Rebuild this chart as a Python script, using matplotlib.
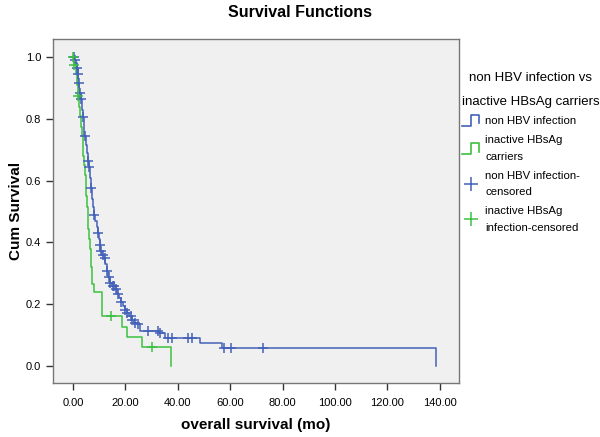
import matplotlib
matplotlib.use("Agg")
import matplotlib.pyplot as plt
import numpy as np
from matplotlib.lines import Line2D
from matplotlib.legend_handler import HandlerBase

plt.rcParams['font.family'] = ['Liberation Sans', 'DejaVu Sans']

# Kaplan-Meier steps: time (mo) and survival after the step
blue_time = [0.0, 0.5, 1.0, 1.4, 1.8, 2.0, 2.4, 2.9, 3.3, 3.6, 4.0, 4.3, 4.8, 5.2, 5.6,
             6.0, 6.4, 6.7, 7.1, 7.6, 8.0, 8.5, 9.0, 9.4, 9.8, 10.1, 10.4, 11.0, 11.8,
             12.3, 12.9, 13.5, 14.1, 15.0, 16.2, 16.9, 17.6, 18.2, 19.0, 19.9, 20.5,
             21.3, 22.4, 23.4, 24.6, 25.6, 32.9, 35.1, 48.5, 56.8, 138.6]
blue_surv = [1.0, 0.99, 0.98, 0.965, 0.945, 0.915, 0.885, 0.865, 0.83, 0.805, 0.775,
             0.745, 0.715, 0.69, 0.665, 0.645, 0.61, 0.575, 0.54, 0.515, 0.49, 0.47,
             0.45, 0.43, 0.41, 0.39, 0.372, 0.36, 0.35, 0.33, 0.308, 0.288, 0.268,
             0.258, 0.248, 0.234, 0.22, 0.207, 0.195, 0.182, 0.172, 0.16, 0.149, 0.14,
             0.134, 0.114, 0.105, 0.089, 0.073, 0.057, 0.0]
blue_cens = [0.4, 0.8, 1.5, 1.9, 2.1, 2.5, 3.0, 3.7, 4.4, 5.8, 6.2, 6.8, 8.1, 9.5, 10.3,
             10.6, 11.3, 12.0, 13.0, 13.7, 14.2, 15.1, 15.7, 16.3, 17.3, 18.3, 20.0,
             20.6, 22.1, 22.5, 23.5, 24.7, 28.8, 32.6, 33.3, 36.4, 37.7, 44.0, 45.3,
             57.8, 60.2, 72.7]

green_time = [0.0, 0.4, 1.0, 1.5, 1.9, 2.4, 2.8, 3.1, 3.4, 3.7, 3.9, 4.2, 4.5, 4.8, 5.0,
              5.3, 5.6, 5.8, 6.1, 6.4, 6.7, 7.0, 7.3, 7.8, 11.0, 18.6, 20.7, 26.3, 37.5]
green_surv = [1.0, 0.975, 0.945, 0.91, 0.873, 0.84, 0.81, 0.775, 0.745, 0.71, 0.68,
              0.65, 0.62, 0.585, 0.55, 0.515, 0.48, 0.445, 0.41, 0.38, 0.35, 0.32,
              0.265, 0.24, 0.16, 0.127, 0.095, 0.062, 0.0]
green_cens = [0.1, 0.5, 2.0, 14.4, 30.0]

blue = '#4361b8'
green = '#3cc040'


def cens_y(times, surv, cens):
    idx = np.searchsorted(times, cens, side='right') - 1
    return np.array(surv)[idx]


class StepHandler(HandlerBase):
    def create_artists(self, legend, orig_handle, xdescent, ydescent,
                       width, height, fontsize, trans):
        x0, y0 = -xdescent, -ydescent
        xs = [x0, x0 + width * 0.5, x0 + width * 0.5, x0 + width, x0 + width]
        ys = [y0 - height * 0.2, y0 - height * 0.2, y0 + height * 1.2,
              y0 + height * 1.2, y0 + height * 0.1]
        ln = Line2D(xs, ys, color=orig_handle.get_color(), lw=1.2, transform=trans)
        return [ln]


fig = plt.figure(figsize=(6, 4.37), dpi=100)
ax = fig.add_axes([0.088, 0.124, 0.677, 0.786])
ax.set_facecolor('#f0f0f0')

ax.step(blue_time, blue_surv, where='post', color=blue, lw=1.1)
ax.step(green_time, green_surv, where='post', color=green, lw=1.1)
ax.plot(blue_cens, cens_y(blue_time, blue_surv, blue_cens), '+', color=blue,
        ms=7, mew=1.1)
ax.plot(green_cens, cens_y(green_time, green_surv, green_cens), '+', color=green,
        ms=7, mew=1.1)

ax.set_xlim(-7.75, 147.4)
ax.set_ylim(-0.055, 1.058)
ax.set_xticks(np.arange(0, 141, 20))
ax.set_xticklabels(['%.2f' % v for v in np.arange(0, 141, 20)])
ax.set_yticks(np.arange(0, 1.01, 0.2))
ax.set_yticklabels(['%.1f' % v for v in np.arange(0, 1.01, 0.2)])
ax.tick_params(labelsize=8, length=5, width=1, color='#333333', direction='out')
ax.tick_params(axis='x', pad=6)
for s in ax.spines.values():
    s.set_color('#777777')
    s.set_linewidth(1)

ax.set_xlabel('overall survival (mo)', fontsize=11, fontweight='bold', labelpad=7)
ax.set_ylabel('Cum Survival', fontsize=11, fontweight='bold', labelpad=2)
fig.text(0.5, 0.972, 'Survival Functions', ha='center', va='center',
         fontsize=11.5, fontweight='bold')

h_blue = Line2D([], [], color=blue)
h_green = Line2D([], [], color=green)
h_bc = Line2D([], [], color=blue, marker='+', ls='none', ms=10, mew=1.1)
h_gc = Line2D([], [], color=green, marker='+', ls='none', ms=10, mew=1.1)
leg = fig.legend([h_blue, h_green, h_bc, h_gc],
                 ['non HBV infection', 'inactive HBsAg\ncarriers',
                  'non HBV infection-\ncensored', 'inactive HBsAg\ninfection-censored'],
                 handler_map={h_blue: StepHandler(), h_green: StepHandler()},
                 title='non HBV infection vs\ninactive HBsAg carriers',
                 loc='upper left', bbox_to_anchor=(0.77, 0.835), frameon=False,
                 fontsize=8.2, title_fontsize=9.5, handlelength=1.5,
                 handletextpad=0.55, labelspacing=0.8, borderaxespad=0,
                 borderpad=0)
leg._legend_box.align = 'left'
leg._legend_box.sep = 6
leg.get_title().set_multialignment('center')
leg.get_title().set_linespacing(2.3)
for t in leg.get_texts():
    t.set_linespacing(1.8)

fig.savefig('out.png', dpi=100, facecolor='white')
